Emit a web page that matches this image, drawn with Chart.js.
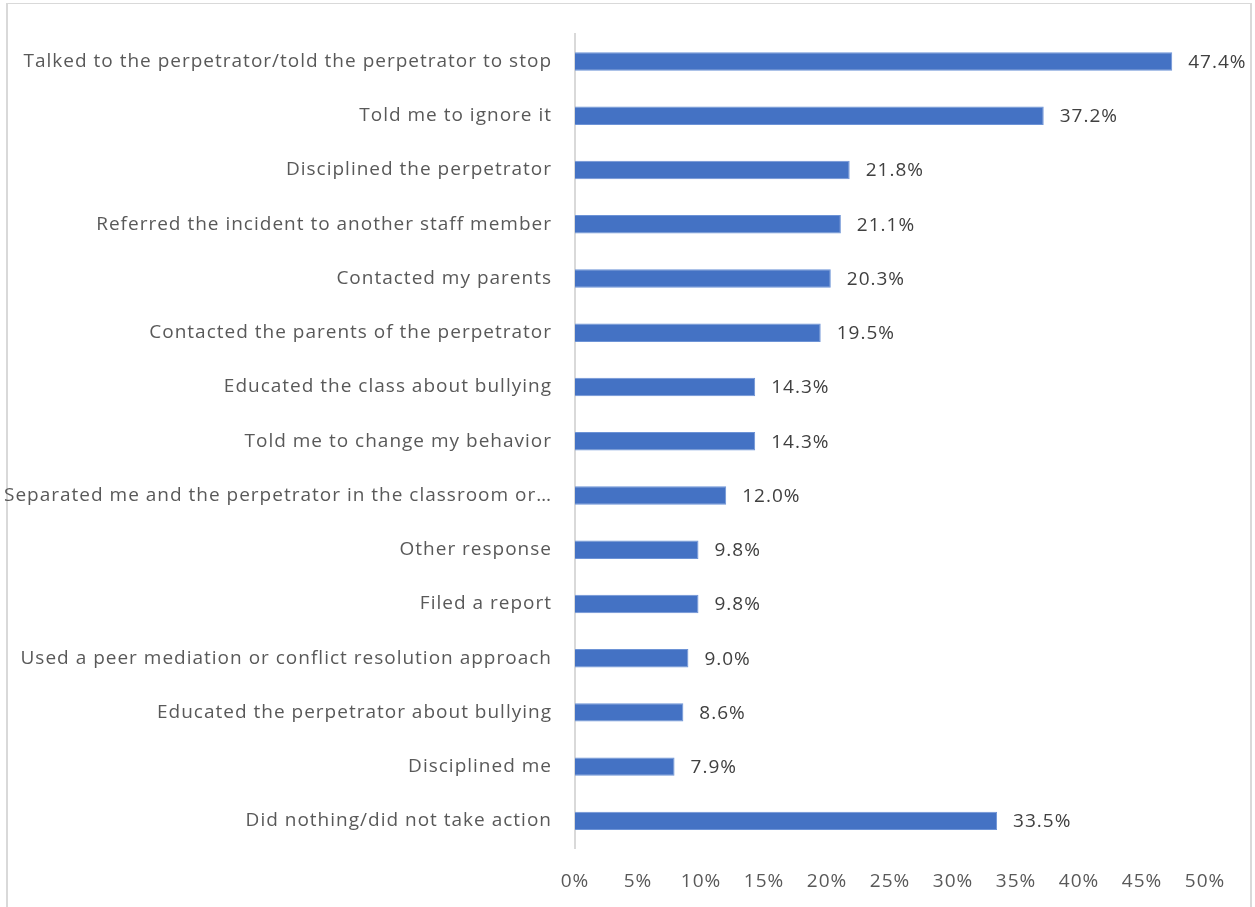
<!DOCTYPE html>
<html>
<head>
<meta charset="utf-8">
<script src="https://cdn.jsdelivr.net/npm/chart.js@4/dist/chart.umd.min.js"></script>
<style>
  html, body { margin: 0; padding: 0; background: #fff; overflow: hidden; }
  #wrap { position: relative; width: 1255px; height: 907px; }
  #frame { position: absolute; left: 6px; top: 3px; width: 1246px; height: 920px;
           border: 1px solid #d9d9d9; border-width: 1px 2px 0 2px; box-sizing: border-box; }
  #c { position: absolute; left: 0; top: 0; }
</style>
</head>
<body>
<div id="wrap">
  <div id="frame"></div>
  <canvas id="c" width="1255" height="907"></canvas>
</div>
<script>
const categories = [
  "Talked to the perpetrator/told the perpetrator to stop",
  "Told me to ignore it",
  "Disciplined the perpetrator",
  "Referred the incident to another staff member",
  "Contacted my parents",
  "Contacted the parents of the perpetrator",
  "Educated the class about bullying",
  "Told me to change my behavior",
  "Separated me and the perpetrator in the classroom or\u2026",
  "Other response",
  "Filed a report",
  "Used a peer mediation or conflict resolution approach",
  "Educated the perpetrator about bullying",
  "Disciplined me",
  "Did nothing/did not take action"
];
const percentages = [47.4, 37.2, 21.8, 21.1, 20.3, 19.5, 14.3, 14.3, 12.0, 9.8, 9.8, 9.0, 8.6, 7.9, 33.5];
const tickValues = [0, 5, 10, 15, 20, 25, 30, 35, 40, 45, 50];

const FONT = "'Open Sans', sans-serif";
const SIZE = 19;

// Slightly open letter spacing for all chart text
const textSpacing = {
  id: 'textSpacing',
  beforeDraw(chart) { chart.ctx.letterSpacing = '1px'; }
};

// Writes each bar's percentage just past its end
const valueLabels = {
  id: 'valueLabels',
  afterDatasetsDraw(chart) {
    const ctx = chart.ctx;
    const meta = chart.getDatasetMeta(0);
    ctx.save();
    ctx.letterSpacing = '1px';
    ctx.font = SIZE + "px " + FONT;
    ctx.fillStyle = "#404040";
    ctx.textAlign = "left";
    ctx.textBaseline = "middle";
    meta.data.forEach((bar, i) => {
      ctx.fillText(percentages[i].toFixed(1) + "%", bar.x + 16, bar.y + 1);
    });
    ctx.restore();
  }
};

new Chart(document.getElementById('c'), {
  type: 'bar',
  data: {
    labels: categories,
    datasets: [{
      data: percentages,
      backgroundColor: '#4472c4',
      borderColor: '#6d93d6',
      borderWidth: 1,
      categoryPercentage: 1,
      barPercentage: 0.34
    }]
  },
  options: {
    indexAxis: 'y',
    responsive: false,
    animation: false,
    layout: { padding: { left: 0, right: 50, top: 33, bottom: 0 } },
    plugins: { legend: { display: false }, tooltip: { enabled: false } },
    scales: {
      x: {
        min: 0, max: 50,
        afterBuildTicks(scale) { scale.ticks = tickValues.map(v => ({ value: v })); },
        afterFit(scale) { scale.height = 59; },
        grid: { display: false, drawTicks: false },
        border: { display: false },
        ticks: {
          padding: 22,
          color: '#595959',
          font: { family: FONT, size: SIZE },
          callback: v => v + '%'
        }
      },
      y: {
        afterFit(scale) { scale.width = 575; },
        grid: { display: false, drawTicks: false },
        border: { display: true, color: '#d9d9d9', width: 2 },
        ticks: {
          padding: 23,
          color: '#595959',
          font: { family: FONT, size: SIZE }
        }
      }
    }
  },
  plugins: [textSpacing, valueLabels]
});
</script>
</body>
</html>
